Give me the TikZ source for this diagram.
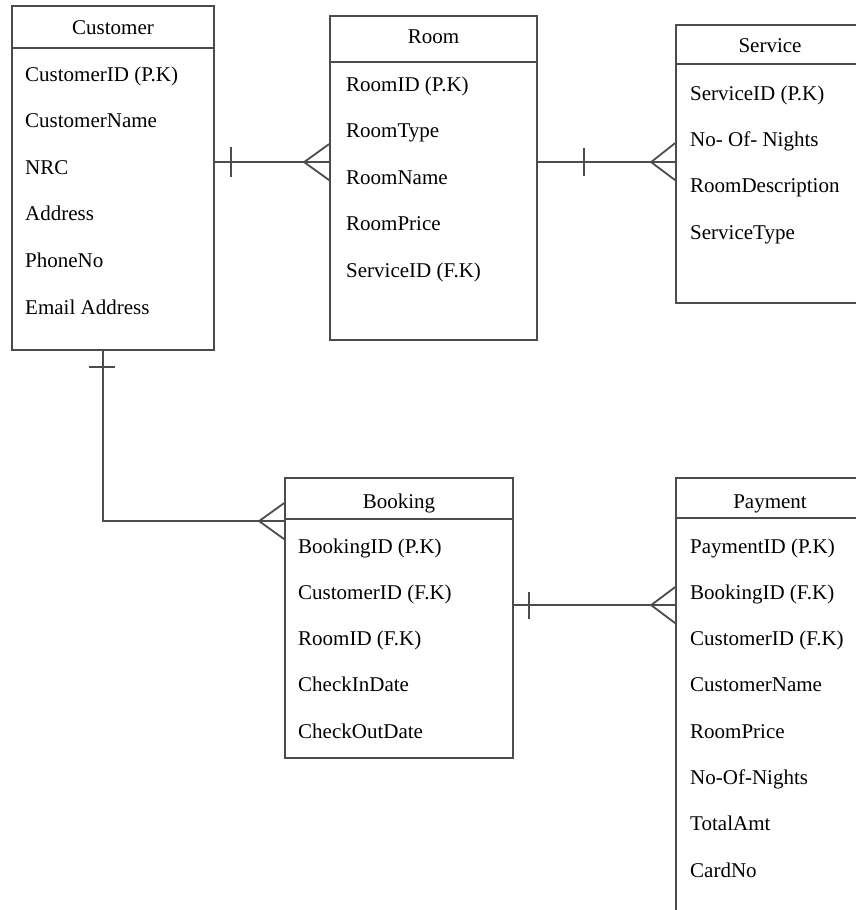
\documentclass[tikz,border=0pt]{standalone}
\usepackage{fontspec}
\setmainfont{Liberation Serif}
\usetikzlibrary{calc, positioning}
\tikzset{
    entity/.style={draw=black!70, line width=1.8pt, rectangle, inner sep=0pt},
    title/.style={font=\fontsize{21}{24}\selectfont, anchor=base, inner sep=0pt},
    attr/.style={font=\fontsize{21}{24}\selectfont, anchor=base west, inner sep=0pt},
    link/.style={draw=black!70, line width=1.8pt}
}

\begin{document}
\begin{tikzpicture}[x=1pt, y=-1pt]
    \clip (0,0) rectangle (856,910);

    % Customer
    \node[entity, minimum width=202pt, minimum height=344pt] (customer) at (113,178) {};
    \draw[link] ($(customer.north west)+(0,43)$) -- ($(customer.north east)+(0,43)$);
    \node[title] (customert) at (113,34) {Customer};
    \node[attr] (cid) at (25,81) {CustomerID (P.K)};
    \node[attr, below=46.6pt of cid.base west, anchor=base west] (cname) {CustomerName};
    \node[attr, below=46.6pt of cname.base west, anchor=base west] (cnrc) {NRC};
    \node[attr, below=46.6pt of cnrc.base west, anchor=base west] (caddr) {Address};
    \node[attr, below=46.6pt of caddr.base west, anchor=base west] (cphone) {PhoneNo};
    \node[attr, below=46.6pt of cphone.base west, anchor=base west] (cmail) {Email Address};

    % Room
    \node[entity, minimum width=207pt, minimum height=324pt] (room) at (433.5,178) {};
    \draw[link] ($(room.north west)+(0,47)$) -- ($(room.north east)+(0,47)$);
    \node[title] (roomt) at (433.5,43) {Room};
    \node[attr] (rid) at (346,91) {RoomID (P.K)};
    \node[attr, below=46.5pt of rid.base west, anchor=base west] (rtype) {RoomType};
    \node[attr, below=46.5pt of rtype.base west, anchor=base west] (rname) {RoomName};
    \node[attr, below=46.5pt of rname.base west, anchor=base west] (rprice) {RoomPrice};
    \node[attr, below=46.5pt of rprice.base west, anchor=base west] (rsid) {ServiceID (F.K)};

    % Service
    \node[entity, minimum width=188pt, minimum height=278pt] (service) at (770,164) {};
    \draw[link] ($(service.north west)+(0,40)$) -- ($(service.north east)+(0,40)$);
    \node[title] (servicet) at (770,52) {Service};
    \node[attr] (sid) at (690,100) {ServiceID (P.K)};
    \node[attr, below=46.4pt of sid.base west, anchor=base west] (snights) {No- Of- Nights};
    \node[attr, below=46.4pt of snights.base west, anchor=base west] (sdesc) {RoomDescription};
    \node[attr, below=46.4pt of sdesc.base west, anchor=base west] (stype) {ServiceType};

    % Booking
    \node[entity, minimum width=228pt, minimum height=280pt] (booking) at (399,618) {};
    \draw[link] ($(booking.north west)+(0,42)$) -- ($(booking.north east)+(0,42)$);
    \node[title] (bookingt) at (399,508) {Booking};
    \node[attr] (bid) at (298,553) {BookingID (P.K)};
    \node[attr, below=46.3pt of bid.base west, anchor=base west] (bcid) {CustomerID (F.K)};
    \node[attr, below=46.3pt of bcid.base west, anchor=base west] (brid) {RoomID (F.K)};
    \node[attr, below=46.3pt of brid.base west, anchor=base west] (bin) {CheckInDate};
    \node[attr, below=46.3pt of bin.base west, anchor=base west] (bout) {CheckOutDate};

    % Payment
    \node[entity, minimum width=188pt, minimum height=460pt] (payment) at (770,708) {};
    \draw[link] ($(payment.north west)+(0,41)$) -- ($(payment.north east)+(0,41)$);
    \node[title] (paymentt) at (770,508) {Payment};
    \node[attr] (pid) at (690,553) {PaymentID (P.K)};
    \node[attr, below=46.3pt of pid.base west, anchor=base west] (pbid) {BookingID (F.K)};
    \node[attr, below=46.3pt of pbid.base west, anchor=base west] (pcid) {CustomerID (F.K)};
    \node[attr, below=46.3pt of pcid.base west, anchor=base west] (pname) {CustomerName};
    \node[attr, below=46.3pt of pname.base west, anchor=base west] (pprice) {RoomPrice};
    \node[attr, below=46.3pt of pprice.base west, anchor=base west] (pnights) {No-Of-Nights};
    \node[attr, below=46.3pt of pnights.base west, anchor=base west] (ptotal) {TotalAmt};
    \node[attr, below=46.3pt of ptotal.base west, anchor=base west] (pcard) {CardNo};

    % Customer -- Room
    \coordinate (cr1) at ($(customer.north east)+(0,157)$);
    \coordinate (cr2) at (room.west |- cr1);
    \draw[link] (cr1) -- (cr2);
    \draw[link] ($(cr1)+(16,-15)$) -- ($(cr1)+(16,15)$);
    \draw[link] ($(cr2)+(0,-18)$) -- ($(cr2)+(-25,0)$) -- ($(cr2)+(0,18)$);

    % Room -- Service
    \coordinate (rs1) at (room.east |- cr1);
    \coordinate (rs2) at (service.west |- cr1);
    \draw[link] (rs1) -- (rs2);
    \draw[link] ($(rs1)+(46,-14)$) -- ($(rs1)+(46,14)$);
    \draw[link] ($(rs2)+(0,-19)$) -- ($(rs2)+(-24,0)$) -- ($(rs2)+(0,18)$);

    % Customer -- Booking
    \coordinate (cb1) at ($(customer.south west)+(92,0)$);
    \coordinate (cb2) at ($(booking.north west)+(0,44)$);
    \draw[link] (cb1) |- (cb2);
    \draw[link] ($(cb1)+(-14,16)$) -- ($(cb1)+(12,16)$);
    \draw[link] ($(cb2)+(0,-18)$) -- ($(cb2)+(-25,0)$) -- ($(cb2)+(0,18)$);

    % Booking -- Payment
    \coordinate (bp1) at ($(booking.north east)+(0,128)$);
    \coordinate (bp2) at (payment.west |- bp1);
    \draw[link] (bp1) -- (bp2);
    \draw[link] ($(bp1)+(15,-13)$) -- ($(bp1)+(15,14)$);
    \draw[link] ($(bp2)+(0,-18)$) -- ($(bp2)+(-24,0)$) -- ($(bp2)+(0,18)$);
\end{tikzpicture}
\end{document}
